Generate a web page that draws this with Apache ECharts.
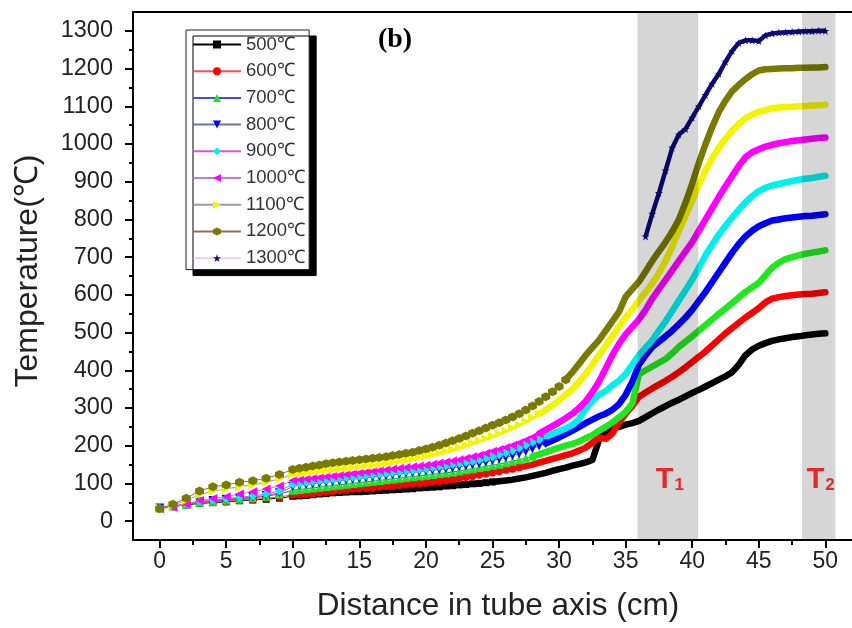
<!DOCTYPE html>
<html><head><meta charset="utf-8">
<script src="https://cdn.jsdelivr.net/npm/echarts@6/dist/echarts.min.js"></script>
<style>html,body{margin:0;padding:0;background:#fff}#c{width:852px;height:628px}</style>
</head><body><div id="c"></div>
<script>
// ---- data ----
const xs = [0,1,2,3,4,5,6,7,8,9,10,
  10.5,11,11.5,12,12.5,13,13.5,14,14.5,15,
  15.5,16,16.5,17,17.5,18,18.5,19,19.5,20,
  20.5,21,21.5,22,22.5,23,23.5,24,24.5,25,
  25.5,26,26.5,27,27.5,28,28.5,29,29.5,30,
  30.5,31,31.5,32,32.5,33,33.5,34,34.5,35,
  35.5,36,36.5,37,37.5,38,38.5,39,39.5,40,
  40.5,41,41.5,42,42.5,43,43.5,44,44.5,45,
  45.5,46,46.5,47,47.5,48,48.5,49,49.5,50];

const t500 = [35,39,43,47,49,51,54,56,58,61,66,
  67,68,70,72,73,75,76,77,78,78,
  79,80,81,82,83,84,85,86,88,89,
  90,91,93,94,96,97,99,100,102,104,
  106,108,110,113,116,120,124,128,133,138,
  142,147,151,156,162,215,236,245,250,256,
  260,266,276,286,296,305,314,322,331,340,
  348,357,366,375,384,395,415,440,455,465,
  472,478,482,485,488,490,493,495,497,498];
const t600 = [35,39,44,48,51,53,56,58,61,64,70,
  71,72,74,76,78,80,82,84,86,87,
  88,90,91,93,94,96,97,99,100,102,
  104,106,108,111,114,117,120,123,126,129,
  132,136,139,143,146,150,155,160,165,170,
  175,180,187,195,208,222,218,232,262,285,
  305,330,341,352,362,372,383,395,408,422,
  436,450,466,482,498,512,526,540,552,565,
  580,590,594,597,599,601,602,603,605,607];
const t700 = [35,40,45,50,53,56,59,62,66,72,82,
  84,86,88,90,92,94,96,98,100,102,
  104,106,108,110,112,114,116,118,120,122,
  124,126,128,130,133,136,139,142,145,148,
  151,155,159,163,167,172,177,183,189,195,
  200,205,211,220,228,240,250,262,275,290,
  312,390,400,410,420,430,445,462,476,490,
  505,520,535,550,564,578,593,608,620,632,
  652,672,685,695,700,705,709,712,715,718];
const t800 = [35,39,45,51,55,58,61,64,68,75,92,
  95,97,99,101,103,105,107,109,111,113,
  115,117,119,121,123,125,127,129,131,133,
  135,137,139,141,144,147,150,153,157,161,
  165,169,174,179,185,192,199,206,214,222,
  231,240,250,260,269,278,285,295,310,335,
  370,415,440,462,476,490,505,522,540,560,
  584,608,634,660,686,712,735,755,770,782,
  790,797,800,803,805,807,809,810,812,814];
const t900 = [35,40,46,52,56,60,63,67,72,80,98,
  100,103,105,107,109,111,113,115,117,119,
  121,123,125,127,129,131,133,135,137,139,
  142,145,147,150,153,156,159,163,167,171,
  176,181,187,194,201,209,216,224,231,238,
  246,255,270,298,318,335,345,360,372,390,
  415,440,460,480,505,530,557,585,612,640,
  672,705,733,760,783,805,826,845,862,875,
  884,890,894,898,902,905,908,910,913,916];
const t1000 = [33,37,45,55,60,65,72,78,85,93,108,
  110,112,114,116,118,120,122,124,126,128,
  130,132,134,136,138,140,142,144,146,148,
  151,154,157,160,163,167,171,175,180,185,
  190,195,201,208,215,223,232,242,252,262,
  273,285,300,318,342,370,405,440,470,495,
  515,535,560,590,615,640,665,690,715,740,
  770,800,830,860,888,915,942,965,978,986,
  993,998,1002,1005,1008,1010,1012,1014,1016,1017];
const t1100 = [35,42,55,70,80,85,92,96,103,112,124,
  126,128,130,132,134,136,138,140,142,144,
  146,148,150,153,156,159,162,165,168,172,
  176,180,185,190,195,201,207,213,219,225,
  232,239,247,255,264,274,284,295,307,320,
  335,350,370,390,415,440,465,490,515,540,
  562,585,607,630,658,690,728,770,810,850,
  892,930,962,990,1014,1035,1053,1068,1078,1085,
  1090,1095,1097,1098,1099,1100,1101,1102,1103,1104];
const t1200 = [33,45,61,80,91,96,103,107,114,124,137,
  140,143,146,149,152,155,157,159,161,163,
  165,167,169,171,174,177,180,183,187,191,
  196,201,207,213,219,226,233,240,247,254,
  261,268,276,285,295,305,317,330,343,357,
  375,395,417,440,460,480,505,530,555,595,
  615,635,662,690,715,740,768,800,845,895,
  950,1000,1045,1085,1115,1140,1157,1172,1185,1195,
  1198,1199,1200,1201,1201,1202,1202,1203,1203,1204];
const xs1300 = [36.5,37,37.5,38,38.5,39,39.5,40,40.5,41,41.5,42,42.5,43,
  43.5,44,44.5,45,45.5,46,46.5,47,47.5,48,48.5,49,49.5,50];
const t1300 = [755,815,870,930,990,1025,1040,1070,1100,1130,1160,1186,1218,1247,
  1268,1275,1275,1273,1288,1293,1295,1296,1297,1298,1299,1299,1300,1300];

const names = ['500℃','600℃','700℃','800℃','900℃','1000℃','1100℃','1200℃','1300℃'];
const xTicks = [0,5,10,15,20,25,30,35,40,45,50];
const xMinor = [2.5,7.5,12.5,17.5,22.5,27.5,32.5,37.5,42.5,47.5];
const yTicks = [0,100,200,300,400,500,600,700,800,900,1000,1100,1200,1300];
const yMinor = [50,150,250,350,450,550,650,750,850,950,1050,1150,1250];
const bands = [[35.9, 40.45, '1'], [48.25, 50.75, '2']];
// x from which each curve is drawn as a dense thick trace
const denseFrom = [25, 27, 28, 29, 28.5, 28.5, 28.5, 30.5];

// ---- style ----
const colors = ['#000000','#ff0000','#1fe81f','#0000ff','#00f0f0','#ff00ff','#f4f400','#7a7a00','#0a0a78'];
const lineColors = ['#000000','#ff5050','#4050e0','#6878a8','#e050e0','#c080d0','#9a9aa8','#8a7060','#e8a0e8'];
const HEX = 'path://M0,-1L0.866,-0.5L0.866,0.5L0,1L-0.866,0.5L-0.866,-0.5Z';
const STAR = 'path://M0,-1L0.2245,-0.309L0.951,-0.309L0.363,0.118L0.588,0.809L0,0.382L-0.588,0.809L-0.363,0.118L-0.951,-0.309L-0.2245,-0.309Z';
const DOWN = 'path://M-1,-1L1,-1L0,1Z';
const LEFT = 'path://M1,-1L1,1L-1,0Z';
const RIGHT = 'path://M-1,-1L-1,1L1,0Z';
const symbols = ['rect','circle','triangle',DOWN,'diamond',LEFT,RIGHT,HEX,STAR];
const symSizes = [7,8,9,9,9,9,9,9,8];
const FONT = '"Liberation Sans", Arial, sans-serif';

const all = [t500,t600,t700,t800,t900,t1000,t1100,t1200];
const series = [];
all.forEach((vals, i) => {
  const pts = xs.map((x, j) => [x, vals[j]]);
  series.push({
    type:'line', name:names[i], data: pts.filter(p => p[0] <= denseFrom[i]),
    symbol: symbols[i], symbolSize: symSizes[i], showAllSymbol:true,
    itemStyle:{color:colors[i]}, lineStyle:{color:lineColors[i], width:1}, z:2
  });
  series.push({
    type:'line', name:names[i], data: pts.filter(p => p[0] >= denseFrom[i]),
    symbol:'none', itemStyle:{color:colors[i]},
    lineStyle:{color:colors[i], width:6.5, cap:'round', join:'round'}, z:2
  });
});
series.push({
  type:'line', name:names[8], data: xs1300.map((x, j) => [x, t1300[j]]),
  symbol: STAR, symbolSize: 8, showAllSymbol:true,
  itemStyle:{color:colors[8]}, lineStyle:{color:colors[8], width:4.5, join:'round'}, z:2
});
series.push({
  type:'custom', name:'bands', z:10, silent:true,
  data: bands,
  renderItem: function (params, api) {
    const cs = params.coordSys;
    const x0 = api.coord([api.value(0), 0])[0];
    const x1 = api.coord([api.value(1), 0])[0];
    const b = bands[params.dataIndex];
    return {
      type:'group',
      children:[
        {type:'rect', shape:{x:x0, y:cs.y, width:x1-x0, height:cs.height},
         style:{fill:'rgba(0,0,0,0.16)'}},
        {type:'text', x:(x0+x1)/2 + 2, y:cs.y + cs.height - 61,
         style:{text:'{t|T}{s|' + b[2] + '}', align:'center', verticalAlign:'middle',
           rich:{t:{fontSize:29, fontWeight:'bold', fontFamily:FONT, fill:'#e3282c', color:'#e3282c', lineHeight:30, verticalAlign:'bottom'},
                 s:{fontSize:17, fontWeight:'bold', fontFamily:FONT, fill:'#e3282c', color:'#e3282c', lineHeight:24, verticalAlign:'bottom', padding:[0,0,0,1]}}}}
      ]
    };
  }
});

const axisBase = {type:'value', splitLine:{show:false}};
const plain = v => String(v);
const chart = echarts.init(document.getElementById('c'), null, {renderer:'canvas'});
chart.setOption({
  animation:false,
  backgroundColor:'#fff',
  grid:{left:133, top:12, width:723.6, height:528, containLabel:false},
  xAxis:[
    Object.assign({}, axisBase, {min:-2, max:52, position:'bottom',
      axisLine:{show:true, onZero:false, lineStyle:{color:'#000', width:2}},
      axisTick:{show:true, customValues:xTicks, length:8, lineStyle:{color:'#000', width:2}},
      axisLabel:{show:true, customValues:xTicks, formatter:plain, margin:10, fontSize:23, color:'#222', fontFamily:FONT}}),
    Object.assign({}, axisBase, {min:-2, max:52, position:'bottom',
      axisLine:{show:false, onZero:false},
      axisTick:{show:true, customValues:xMinor, length:5, lineStyle:{color:'#000', width:2}},
      axisLabel:{show:false}}),
    Object.assign({}, axisBase, {min:-2, max:52, position:'top',
      axisLine:{show:true, onZero:false, lineStyle:{color:'#000', width:2}},
      axisTick:{show:false}, axisLabel:{show:false}})
  ],
  yAxis:[
    Object.assign({}, axisBase, {min:-50, max:1350, position:'left',
      axisLine:{show:true, onZero:false, lineStyle:{color:'#000', width:2}},
      axisTick:{show:true, customValues:yTicks, length:8, lineStyle:{color:'#000', width:2}},
      axisLabel:{show:true, customValues:yTicks, formatter:plain, margin:20, fontSize:23.5, color:'#222', fontFamily:FONT}}),
    Object.assign({}, axisBase, {min:-50, max:1350, position:'left',
      axisLine:{show:false, onZero:false},
      axisTick:{show:true, customValues:yMinor, length:4, lineStyle:{color:'#000', width:2}},
      axisLabel:{show:false}})
  ],
  legend:{
    orient:'vertical', left:186, top:30,
    padding:[5,4,2,6], itemWidth:48, itemHeight:10, itemGap:7.7,
    backgroundColor:'#fff', borderColor:'#222', borderWidth:1,
    shadowColor:'#000', shadowOffsetX:7, shadowOffsetY:6, shadowBlur:0,
    textStyle:{fontSize:18.5, lineHeight:18, color:'#333', fontFamily:FONT},
    data: names.map((n, i) => i === 8 ? {name:n, lineStyle:{color:lineColors[8], width:1}} : {name:n})
  },
  graphic:[
    {type:'text', x:395, y:40, z:100, style:{text:'(b)', font:'bold 28px "Liberation Serif", "Times New Roman", serif', fill:'#000', align:'center', verticalAlign:'middle', textAlign:'center', textVerticalAlign:'middle'}},
    {type:'text', x:28, y:271, rotation:Math.PI/2, z:100, style:{text:'Temperature(℃)', font:'32px ' + FONT, fill:'#222', align:'center', verticalAlign:'middle', textAlign:'center', textVerticalAlign:'middle'}},
    {type:'text', x:498, y:606, z:100, style:{text:'Distance in tube axis (cm)', font:'31.5px ' + FONT, fill:'#222', align:'center', verticalAlign:'middle', textAlign:'center', textVerticalAlign:'middle'}}
  ],
  series: series
});
</script></body></html>
